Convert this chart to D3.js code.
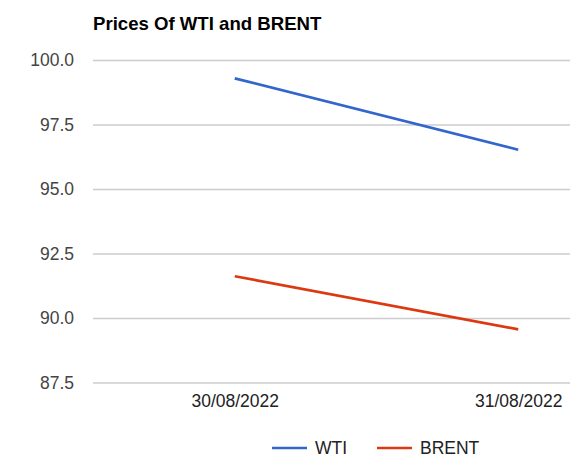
<!DOCTYPE html>
<html>
<head>
<meta charset="utf-8">
<script src="https://cdn.jsdelivr.net/npm/d3@7"></script>
<style>
  body { margin: 0; background: #fff; }
  text { font-family: Arial, "Liberation Sans", sans-serif; }
</style>
</head>
<body>
<div id="chart"></div>
<script>
// Data
var dates = ["30/08/2022", "31/08/2022"];
var wti = [99.29, 96.52];
var brent = [91.62, 89.56];
var yTicks = [87.5, 90.0, 92.5, 95.0, 97.5, 100.0];
var seriesNames = ["WTI", "BRENT"];
var seriesColors = ["#3366cc", "#dc3912"];

var width = 570, height = 462;

var svg = d3.select("#chart").append("svg")
  .attr("width", width)
  .attr("height", height);

// 1. Scales. Plot area runs off the right edge like the original screenshot.
var xScale = d3.scalePoint()
  .domain(dates)
  .range([93, 660])
  .padding(0.5);
var yScale = d3.scaleLinear()
  .domain([87.5, 100])
  .range([382.5, 60]);

// 2. Gridlines + y labels
var yAxis = d3.axisLeft(yScale)
  .tickValues(yTicks)
  .tickFormat(d3.format(".1f"))
  .tickSize(-(width - 93))
  .tickPadding(19);
var gy = svg.append("g")
  .attr("transform", "translate(93,0)")
  .call(yAxis);
gy.select(".domain").remove();
gy.selectAll(".tick line").attr("stroke", "#cccccc").attr("stroke-width", 1.3);
gy.selectAll(".tick text")
  .attr("fill", "#444444")
  .style("font-size", "17.5px");

// 3. X labels
var xAxis = d3.axisBottom(xScale).tickSize(0).tickPadding(0);
var gx = svg.append("g")
  .attr("transform", "translate(0,395)")
  .call(xAxis);
gx.select(".domain").remove();
gx.selectAll(".tick text")
  .attr("fill", "#222222")
  .attr("dy", "0.71em")
  .style("font-size", "17.5px");

// 4. Lines
var series = [wti, brent];
var line = d3.line()
  .x(function (d, i) { return xScale(dates[i]); })
  .y(function (d) { return yScale(d); });
series.forEach(function (values, k) {
  svg.append("path")
    .datum(values)
    .attr("fill", "none")
    .attr("stroke", seriesColors[k])
    .attr("stroke-width", 2.7)
    .attr("d", line);
});

// 5. Title
svg.append("text")
  .attr("x", 93)
  .attr("y", 30)
  .attr("fill", "#000000")
  .style("font-size", "18.6px")
  .style("font-weight", "bold")
  .text("Prices Of WTI and BRENT");

// 6. Legend
var legendX = [272, 377];
var legend = svg.selectAll(".legend").data(seriesNames)
  .enter().append("g")
  .attr("class", "legend")
  .attr("transform", function (d, i) { return "translate(" + legendX[i] + ",448)"; });
legend.append("line")
  .attr("x1", 0).attr("x2", 35)
  .attr("stroke", function (d, i) { return seriesColors[i]; })
  .attr("stroke-width", 2.7);
legend.append("text")
  .attr("x", 43)
  .attr("y", 6.3)
  .attr("fill", "#222222")
  .style("font-size", "17.5px")
  .text(function (d) { return d; });
</script>
</body>
</html>
